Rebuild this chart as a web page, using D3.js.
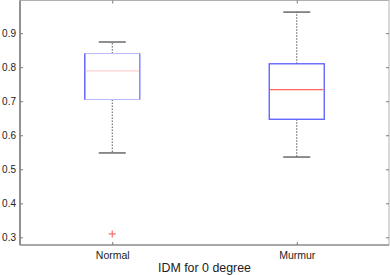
<html>
<head>
    <script src="https://cdn.jsdelivr.net/npm/d3@7/dist/d3.min.js"></script>
    <style>
        body { margin: 0; background: #fff; }
        text { font-family: "Liberation Sans", Arial, sans-serif; }
    </style>
</head>
<body>
<script>
    // box stats
    var groups = ['Normal', 'Murmur'];
    var q1 = [0.705, 0.647];
    var median = [0.789, 0.734];
    var q3 = [0.840, 0.810];
    var whiskLow = [0.548, 0.536];
    var whiskHigh = [0.874, 0.962];
    var outliers = [[0.310], []];
    var yTicks = [0.3, 0.4, 0.5, 0.6, 0.7, 0.8, 0.9];
    var xTitle = 'IDM for 0 degree';

    var w = 390, h = 275;
    var plotL = 20, plotR = 389, plotT = 0.5, plotB = 245;

    var svg = d3.select('body').append('svg')
        .attr('width', w)
        .attr('height', h);

    var x = d3.scaleLinear().domain([0.5, 2.5]).range([plotL, plotR]);
    var y = d3.scaleLinear().domain([0.2775, 0.996]).range([plotB, plotT]);

    var axisColor = '#7a7a7a';

    // frame
    svg.append('rect')
        .attr('x', plotL).attr('y', plotT)
        .attr('width', plotR - plotL).attr('height', plotB - plotT)
        .attr('fill', 'none')
        .attr('stroke', '#b0b0b0');
    svg.append('line')
        .attr('x1', plotL).attr('x2', plotL).attr('y1', plotT).attr('y2', plotB)
        .attr('stroke', axisColor).attr('stroke-width', 1.5);
    svg.append('line')
        .attr('x1', plotL).attr('x2', plotR).attr('y1', plotB).attr('y2', plotB)
        .attr('stroke', axisColor);

    // y axis left (ticks inward)
    var yAxis = d3.axisLeft(y).tickValues(yTicks).tickSize(-3).tickPadding(4)
        .tickFormat(d3.format('.1f'));
    var gy = svg.append('g').attr('transform', 'translate(' + plotL + ',0)').call(yAxis);
    gy.select('.domain').remove();
    gy.selectAll('line').attr('stroke', axisColor);
    gy.selectAll('text').attr('font-size', 10).attr('fill', '#222')
        .attr('font-family', '"Liberation Sans", Arial, sans-serif');

    // right side ticks
    var gyr = svg.append('g').attr('transform', 'translate(' + plotR + ',0)')
        .call(d3.axisRight(y).tickValues(yTicks).tickSize(-3).tickFormat(''));
    gyr.select('.domain').remove();
    gyr.selectAll('line').attr('stroke', axisColor);

    // x axis
    var xAxis = d3.axisBottom(x).tickValues([1, 2]).tickSize(-3).tickPadding(7)
        .tickFormat(function (d) { return groups[d - 1]; });
    var gx = svg.append('g').attr('transform', 'translate(0,' + plotB + ')').call(xAxis);
    gx.select('.domain').remove();
    gx.selectAll('line').attr('stroke', axisColor);
    gx.selectAll('text').attr('font-size', 10.5).attr('fill', '#222')
        .attr('font-family', '"Liberation Sans", Arial, sans-serif');

    var gxt = svg.append('g').attr('transform', 'translate(0,' + plotT + ')')
        .call(d3.axisTop(x).tickValues([1, 2]).tickSize(-3).tickFormat(''));
    gxt.select('.domain').remove();
    gxt.selectAll('line').attr('stroke', axisColor);

    svg.append('text')
        .attr('x', (plotL + plotR) / 2)
        .attr('y', 272)
        .attr('text-anchor', 'middle')
        .attr('font-size', 12.4)
        .attr('fill', '#222')
        .text(xTitle);

    var boxW = 55, capW = 27;
    var boxColor = ['#b8b8ff', '#5a5aff'];
    var medColor = ['#f7c4c4', '#ff6464'];

    var boxes = svg.selectAll('.box')
        .data(groups)
        .enter()
        .append('g')
        .attr('class', 'box');

    boxes.each(function (d, i) {
        var g = d3.select(this);
        var cx = x(i + 1);

        // whiskers
        g.append('line')
            .attr('x1', cx).attr('x2', cx)
            .attr('y1', y(q3[i])).attr('y2', y(whiskHigh[i]))
            .attr('stroke', '#555').attr('stroke-dasharray', '1.5,1.5');
        g.append('line')
            .attr('x1', cx).attr('x2', cx)
            .attr('y1', y(q1[i])).attr('y2', y(whiskLow[i]))
            .attr('stroke', '#555').attr('stroke-dasharray', '1.5,1.5');

        // caps
        [whiskHigh[i], whiskLow[i]].forEach(function (v) {
            g.append('line')
                .attr('x1', cx - capW / 2).attr('x2', cx + capW / 2)
                .attr('y1', y(v)).attr('y2', y(v))
                .attr('stroke', '#444').attr('stroke-width', 1.2);
        });

        // box
        g.append('rect')
            .attr('x', cx - boxW / 2).attr('y', y(q3[i]))
            .attr('width', boxW).attr('height', y(q1[i]) - y(q3[i]))
            .attr('fill', 'white')
            .attr('stroke', boxColor[i])
            .attr('stroke-width', i == 1 ? 1.3 : 1);

        if (i == 0) {
            // darker sides on the first box
            g.append('line')
                .attr('x1', cx - boxW / 2).attr('x2', cx - boxW / 2)
                .attr('y1', y(q3[i])).attr('y2', y(q1[i]))
                .attr('stroke', '#6a6aff').attr('stroke-width', 1.5);
            g.append('line')
                .attr('x1', cx + boxW / 2).attr('x2', cx + boxW / 2)
                .attr('y1', y(q3[i])).attr('y2', y(q1[i]))
                .attr('stroke', '#8c8cff').attr('stroke-width', 1.5);
        }

        // median
        g.append('line')
            .attr('x1', cx - boxW / 2 + 0.7).attr('x2', cx + boxW / 2 - 0.7)
            .attr('y1', y(median[i])).attr('y2', y(median[i]))
            .attr('stroke', medColor[i])
            .attr('stroke-width', i == 1 ? 1.4 : 1);

        // outliers
        outliers[i].forEach(function (v) {
            g.append('path')
                .attr('d', 'M' + (cx - 3.5) + ',' + y(v) + 'h7M' + cx + ',' + (y(v) - 3.5) + 'v7')
                .attr('stroke', '#ff6b6b').attr('stroke-width', 1.2);
        });
    });
</script>
</body>
</html>
